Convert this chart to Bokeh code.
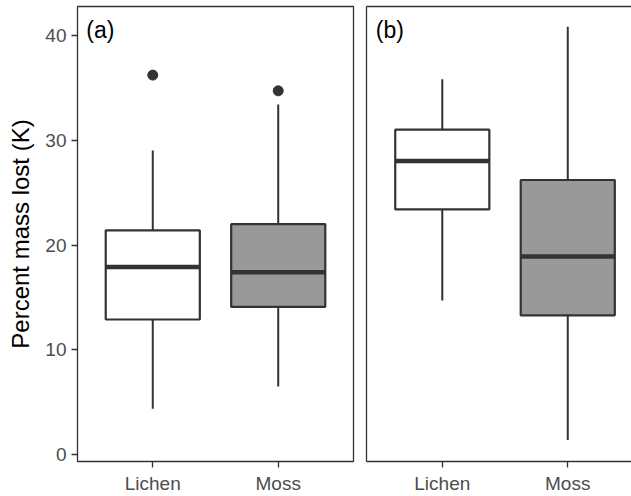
from bokeh.plotting import figure
from bokeh.layouts import row
from bokeh.models import Range1d, FixedTicker, LinearAxis, ColumnDataSource, Label
from bokeh.embed import file_html
from bokeh.resources import INLINE

categories = ["Lichen", "Moss"]
panel_tags = ["(a)", "(b)"]
fill_colors = ["#FFFFFF", "#999999"]
y_ticks = [0, 10, 20, 30, 40]

# panel (a)
a_lower = [4.4, 6.5]
a_q1 = [12.9, 14.1]
a_median = [17.9, 17.4]
a_q3 = [21.4, 22.0]
a_upper = [29.0, 33.4]
a_out_cat = ["Lichen", "Moss"]
a_out_val = [36.2, 34.7]

# panel (b)
b_lower = [14.7, 1.4]
b_q1 = [23.4, 13.3]
b_median = [28.0, 18.9]
b_q3 = [31.0, 26.2]
b_upper = [35.8, 40.8]
b_out_cat = []
b_out_val = []

FRAME = "#333333"
TICKTXT = "#4D4D4D"
FONT = "Liberation Sans"
BOXW = 0.75

y_range = Range1d(-0.64, 42.74)


def make_panel(lower, q1, med, q3, upper, out_cat, out_val, tag, first):
    x = [i + 1 for i in range(len(categories))]
    if first:
        p = figure(width=359, height=496, x_range=Range1d(0.4, 2.6), y_range=y_range,
                   output_backend="svg", toolbar_location=None, title=None,
                   min_border_left=77, min_border_right=6, min_border_top=6, min_border_bottom=35)
        p.outline_line_color = FRAME
        p.outline_line_width = 1.3
    else:
        p = figure(width=272, height=496, x_range=Range1d(0.396, 2.508), y_range=y_range,
                   output_backend="svg", toolbar_location=None, title=None,
                   min_border_left=7, min_border_right=0, min_border_top=6, min_border_bottom=35)
        p.outline_line_color = None
    p.background_fill_color = "white"
    p.border_fill_color = "white"
    p.xgrid.visible = False
    p.ygrid.visible = False

    src = ColumnDataSource(dict(
        x=x,
        xl=[v - BOXW / 2 for v in x],
        xr=[v + BOXW / 2 for v in x],
        lower=lower, q1=q1, med=med, q3=q3, upper=upper, fill=fill_colors,
    ))
    p.segment(x0="x", y0="q3", x1="x", y1="upper", source=src, line_color=FRAME, line_width=2)
    p.segment(x0="x", y0="q1", x1="x", y1="lower", source=src, line_color=FRAME, line_width=2)
    p.vbar(x="x", width=BOXW, top="q3", bottom="q1", source=src, fill_color="fill",
           line_color=FRAME, line_width=2.2)
    p.segment(x0="xl", y0="med", x1="xr", y1="med", source=src, line_color=FRAME,
              line_width=4.5, line_cap="butt")
    if out_val:
        ox = [categories.index(c) + 1 for c in out_cat]
        p.scatter(ox, out_val, size=10, fill_color=FRAME, line_color=FRAME)

    # x axis
    xa = p.xaxis[0]
    xa.ticker = FixedTicker(ticks=x)
    xa.major_label_overrides = {v: c for v, c in zip(x, categories)}
    xa.major_label_text_font = FONT
    xa.major_label_text_font_size = "19px"
    xa.major_label_text_color = TICKTXT
    xa.major_label_standoff = 5
    xa.major_tick_out = 6
    xa.major_tick_in = 0
    xa.major_tick_line_color = FRAME
    xa.major_tick_line_width = 1.3
    xa.minor_tick_line_color = None
    xa.axis_line_color = None if first else FRAME
    xa.axis_line_width = 1.3

    ya = p.yaxis[0]
    ya.minor_tick_line_color = None
    if first:
        ya.ticker = FixedTicker(ticks=y_ticks)
        ya.major_label_text_font = FONT
        ya.major_label_text_font_size = "19px"
        ya.major_label_text_color = TICKTXT
        ya.major_label_standoff = 5
        ya.major_tick_out = 6
        ya.major_tick_in = 0
        ya.major_tick_line_color = FRAME
        ya.major_tick_line_width = 1.3
        ya.axis_line_color = None
        ya.axis_label = "Percent mass lost (K)"
        ya.axis_label_text_font = FONT
        ya.axis_label_text_font_size = "24px"
        ya.axis_label_text_font_style = "normal"
        ya.axis_label_text_color = "black"
        ya.axis_label_standoff = 8
    else:
        ya.ticker = FixedTicker(ticks=[])
        ya.major_label_text_font_size = "0px"
        ya.major_label_standoff = 0
        ya.major_tick_out = 0
        ya.major_tick_in = 0
        ya.axis_line_color = FRAME
        ya.axis_line_width = 1.3
        top = LinearAxis(ticker=FixedTicker(ticks=[]), major_label_text_font_size="0px",
                         major_label_standoff=0, major_tick_out=0, major_tick_in=0,
                         minor_tick_line_color=None, axis_line_color=FRAME, axis_line_width=1.3)
        p.add_layout(top, "above")

    p.add_layout(Label(x=0.47, y=40.5, text=tag, text_font=FONT, text_font_size="23px",
                       text_color="black", text_baseline="middle", text_align="left"))
    return p


p1 = make_panel(a_lower, a_q1, a_median, a_q3, a_upper, a_out_cat, a_out_val, panel_tags[0], True)
p2 = make_panel(b_lower, b_q1, b_median, b_q3, b_upper, b_out_cat, b_out_val, panel_tags[1], False)

layout = row(p1, p2)
open("out.html", "w").write(file_html(layout, INLINE))
